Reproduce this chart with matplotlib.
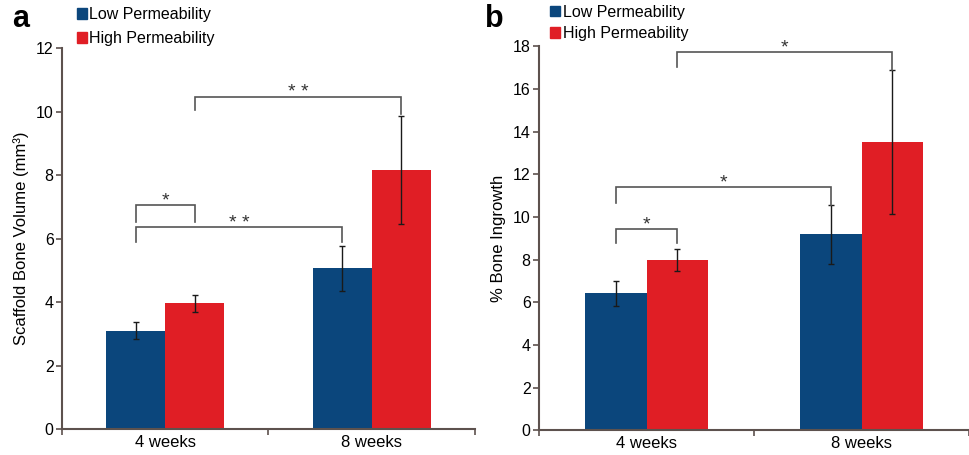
import numpy as np
import matplotlib
matplotlib.use("Agg")
import matplotlib.pyplot as plt
from matplotlib.patches import Patch

plt.rcParams["font.family"] = ["Liberation Sans", "DejaVu Sans"]

categories = ["4 weeks", "8 weeks"]
series = ["Low Permeability", "High Permeability"]

# panel a: scaffold bone volume (mm^3)
vol_low = [3.10, 5.06]
vol_low_err = [0.27, 0.70]
vol_high = [3.96, 8.16]
vol_high_err = [0.26, 1.70]

# panel b: % bone ingrowth
ing_low = [6.42, 9.19]
ing_low_err = [0.60, 1.38]
ing_high = [7.98, 13.52]
ing_high_err = [0.50, 3.36]

# significance brackets: (bar i, bar j, bar height, leg i bottom, leg j bottom, label)
# bar index: 0 = 4w low, 1 = 4w high, 2 = 8w low, 3 = 8w high
brackets_a = [
    (0, 1, 7.06, 6.53, 6.53, "*"),
    (0, 2, 6.35, 5.90, 5.90, "* *"),
    (1, 3, 10.47, 10.05, 9.92, "* *"),
]
brackets_b = [
    (0, 1, 9.44, 8.80, 8.80, "*"),
    (0, 2, 11.39, 10.67, 10.56, "*"),
    (1, 3, 17.72, 17.05, 16.88, "*"),
]

BLUE = "#0b467c"
RED = "#e01e25"
AXC = "#5d524e"
BRC = "#555555"
width = 0.286


def draw_panel(ax, low, low_err, high, high_err, brackets, ymax, ystep, ylabel):
    xc = np.arange(len(categories)) + 0.5
    ax.bar(xc - width / 2, low, width, color=BLUE, zorder=2)
    ax.bar(xc + width / 2, high, width, color=RED, zorder=2)
    ax.errorbar(xc - width / 2, low, yerr=low_err, fmt="none", ecolor="#1a1a1a",
                elinewidth=1.0, capsize=2.2, capthick=1.0, zorder=3)
    ax.errorbar(xc + width / 2, high, yerr=high_err, fmt="none", ecolor="#1a1a1a",
                elinewidth=1.0, capsize=2.2, capthick=1.0, zorder=3)

    bar_x = [xc[0] - width / 2, xc[0] + width / 2, xc[1] - width / 2, xc[1] + width / 2]
    for i, j, h, bi, bj, lab in brackets:
        x1, x2 = bar_x[i], bar_x[j]
        ax.plot([x1, x1, x2, x2], [bi, h, h, bj], color=BRC, lw=1.2, zorder=4,
                solid_joinstyle="miter", clip_on=False)
        ax.annotate(lab, ((x1 + x2) / 2, h), xytext=(0, -3), textcoords="offset points",
                    ha="center", va="bottom", fontsize=14, color="#333333")

    ax.set_xlim(0, 2)
    ax.set_ylim(0, ymax)
    ax.set_yticks(np.arange(0, ymax + 0.1, ystep))
    ax.set_xticks([0, 1, 2])
    ax.set_xticklabels([])
    ax.set_xticks(xc, minor=True)
    ax.set_xticklabels(categories, minor=True)
    ax.tick_params(axis="x", which="minor", length=0, labelsize=12, pad=4)
    ax.tick_params(axis="x", which="major", length=4, width=1.2, color=AXC)
    ax.tick_params(axis="y", length=4, width=1.2, color=AXC, labelsize=11.5, pad=2)
    for s in ["top", "right"]:
        ax.spines[s].set_visible(False)
    for s in ["left", "bottom"]:
        ax.spines[s].set_color(AXC)
        ax.spines[s].set_linewidth(1.5)
    ax.set_ylabel(ylabel, fontsize=12, labelpad=5)


fig = plt.figure(figsize=(9.7, 4.55), dpi=100)
ax_a = fig.add_axes([0.0639, 0.0571, 0.4258, 0.8374])
ax_b = fig.add_axes([0.5557, 0.0543, 0.4433, 0.8439])

draw_panel(ax_a, vol_low, vol_low_err, vol_high, vol_high_err, brackets_a, 12, 2,
           "Scaffold Bone Volume (mm³)")
draw_panel(ax_b, ing_low, ing_low_err, ing_high, ing_high_err, brackets_b, 18, 2,
           "% Bone Ingrowth")

handles = [Patch(color=BLUE), Patch(color=RED)]
fig.legend(handles, series, loc="upper left", bbox_to_anchor=(0.079, 0.985),
           frameon=False, fontsize=11.5, handlelength=0.65, handleheight=0.65,
           handletextpad=0.15, labelspacing=0.6, borderpad=0.0, borderaxespad=0)
fig.legend(handles, series, loc="upper left", bbox_to_anchor=(0.567, 0.99),
           frameon=False, fontsize=11.5, handlelength=0.65, handleheight=0.65,
           handletextpad=0.15, labelspacing=0.4, borderpad=0.0, borderaxespad=0)

fig.text(0.013, 0.958, "a", fontsize=22, fontweight="bold", va="center", ha="left")
fig.text(0.500, 0.958, "b", fontsize=22, fontweight="bold", va="center", ha="left")

fig.savefig("out.png", dpi=100)
